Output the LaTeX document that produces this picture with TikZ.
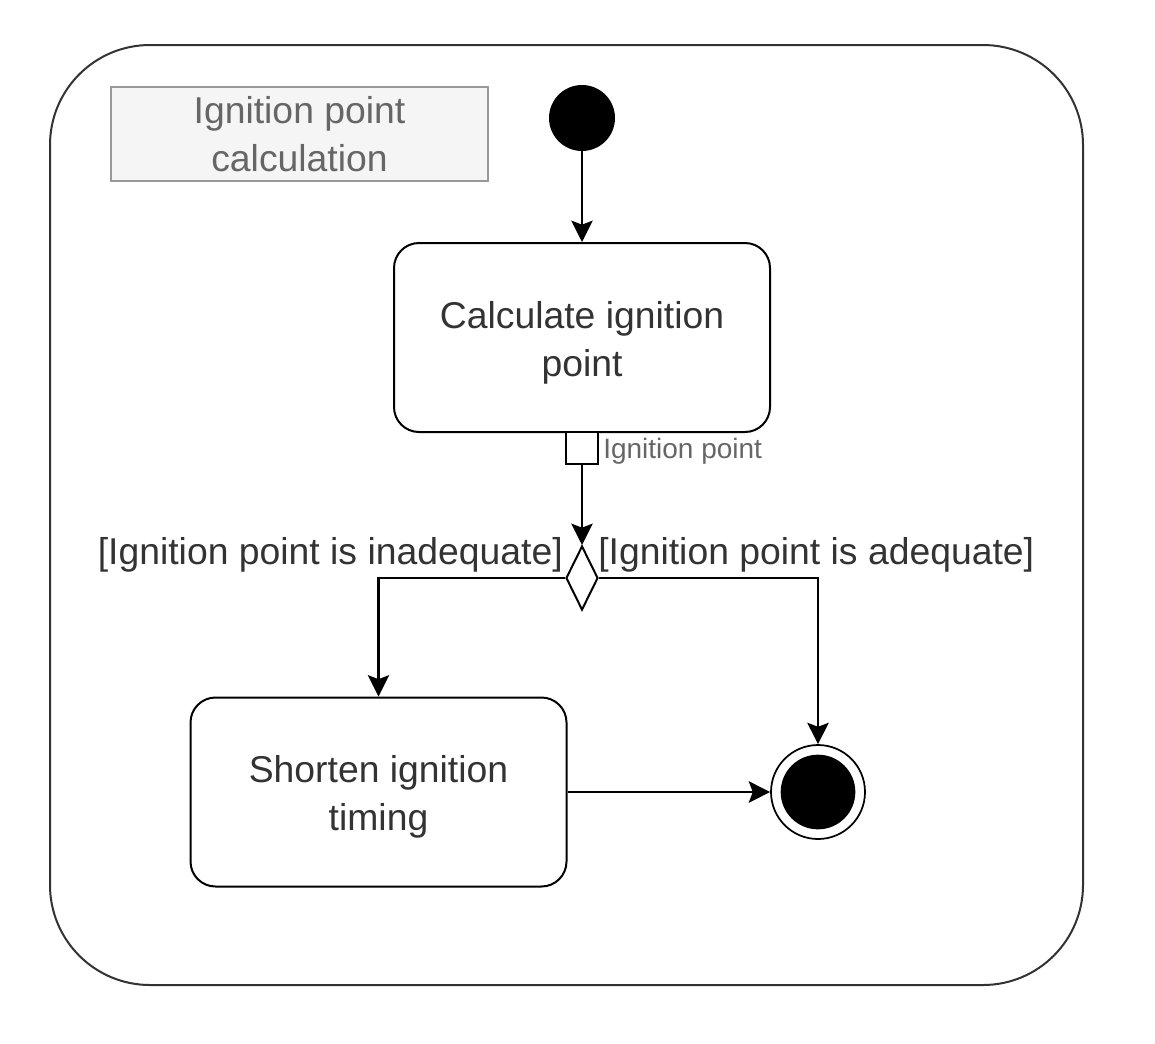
\documentclass[tikz,border=0pt]{standalone}
\usepackage{fontspec}
\setmainfont{Liberation Sans}
\usetikzlibrary{shapes.geometric,arrows.meta}
\definecolor{txt}{HTML}{333333}
\definecolor{lbltxt}{HTML}{666666}
\definecolor{lblfill}{HTML}{F5F5F5}
\definecolor{lblline}{HTML}{999999}
\definecolor{framecol}{HTML}{333333}
\begin{document}
\begin{tikzpicture}[x=0.75pt,y=-0.75pt,
  mainfont/.style={font=\fontsize{28}{36}\selectfont},
  actbox/.style={draw=black, rounded corners=18.75pt, minimum width=282pt, minimum height=141.75pt,
    line width=1.5pt, inner sep=0pt},
  acttext/.style={align=center, mainfont, text=txt, inner sep=0pt},
  framebox/.style={draw=framecol, rounded corners=75pt, minimum width=774.75pt, minimum height=705pt,
    line width=1.5pt, inner sep=0pt},
  lblbox/.style={draw=lblline, fill=lblfill, minimum width=283pt, minimum height=70.5pt,
    line width=1.5pt, align=center, mainfont, text=lbltxt, inner sep=0pt},
  startnode/.style={circle, fill=black, minimum size=49.5pt, inner sep=0pt},
  finalouter/.style={circle, draw=black, line width=1.3pt, fill=white, minimum size=70.5pt, inner sep=0pt},
  finalinner/.style={circle, fill=black, minimum size=56pt, inner sep=0pt},
  pinbox/.style={draw=black, fill=white, line width=1.5pt, minimum size=24pt, inner sep=0pt},
  decision/.style={diamond, draw=black, fill=white, line width=1.5pt, minimum width=24pt, minimum height=48pt, inner sep=0pt},
  guard/.style={mainfont, text=txt, inner sep=0pt},
  pinlbl/.style={font=\fontsize{21}{25}\selectfont, text=lbltxt, inner sep=0pt},
  conn/.style={draw=black, line width=1.8pt, -{Stealth[width=16pt,length=16pt,inset=3pt]}}
]
\useasboundingbox (0,0) rectangle (1155,1043);
\node[framebox] (act) at (566.5,515) {};
\node[lblbox] (title) at (299.5,134) {Ignition point\\calculation};
\node[startnode] (start) at (582,118) {};
\node[actbox] (calc) at (582,337.5) {};
\node[acttext] (calctext) at ([yshift=-3.75pt]calc.center) {Calculate ignition\\point};
\node[pinbox] (opin) at (582,448) {};
\node[pinlbl, anchor=west] (opinlbl) at (603,451) {Ignition point};
\node[decision] (dec) at (582,578) {};
\node[guard, anchor=east] (gleft) at (563,555) {[Ignition point is inadequate]};
\node[guard, anchor=west] (gright) at (598,555) {[Ignition point is adequate]};
\node[actbox] (short) at (378.5,792) {};
\node[acttext] (shorttext) at ([yshift=-3.75pt]short.center) {Shorten ignition\\timing};
\node[finalouter] (final) at (818,792) {};
\node[finalinner] (finalc) at (final.center) {};

\draw[conn] (start) -- (calc);
\draw[conn] (opin) -- (dec);
\draw[conn] (dec.west) -| (short.north);
\draw[conn] (dec.east) -| (final.north);
\draw[conn] (short.east) -- (final.west);
\end{tikzpicture}
\end{document}
